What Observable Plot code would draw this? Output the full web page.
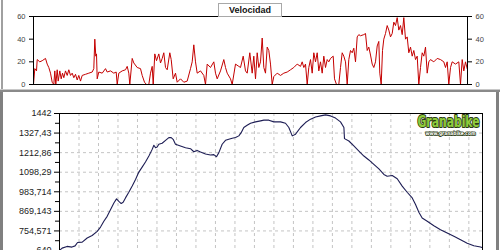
<!DOCTYPE html>
<html>
<head>
<meta charset="utf-8">
<script src="https://cdn.jsdelivr.net/npm/d3@7"></script>
<script src="https://cdn.jsdelivr.net/npm/@observablehq/plot@0.6"></script>
<style>
  html, body { margin: 0; padding: 0; background: #fff; }
  #wrap { position: relative; width: 500px; height: 250px; overflow: hidden; background: #fff; font-family: "Liberation Sans", Arial, sans-serif; }
  #top, #bottom { position: absolute; left: 0; }
  #top { top: 0; }
  #bottom { top: 92px; }
  .bar { position: absolute; }
  #title { position: absolute; left: 218px; top: 3px; width: 62px; height: 12px; border: 1px solid #a8a8a8; background: #fff;
           font: bold 9px "Liberation Sans", Arial, sans-serif; text-align: center; line-height: 12px; color: #111; z-index: 5; }
</style>
</head>
<body>
<div id="wrap">
  <div id="top"></div>
  <div id="bottom"></div>
  <div class="bar" style="left:1px;top:0;width:2px;height:90px;background:#a0a0a0"></div>
  <div class="bar" style="left:0;top:89px;width:500px;height:1px;background:#c8c8c8"></div>
  <div class="bar" style="left:0;top:90px;width:500px;height:2px;background:#8a8a8a"></div>
  <div class="bar" style="left:0;top:92px;width:3px;height:158px;background:#808080"></div>
  <div class="bar" style="left:496px;top:92px;width:3px;height:158px;background:#808080"></div>
  <div id="title">Velocidad</div>
</div>
<script>
// ---- Velocity (km/h) vs distance (km) ----
const velDist = [0,0.13,0.3,0.37,0.63,0.87,1.2,1.37,1.53,1.7,1.87,2.03,2.13,2.23,2.37,2.47,2.63,2.77,2.9,3.03,3.2,3.37,3.53,3.7,3.87,4.03,4.2,4.37,4.53,4.7,4.87,5.2,5.53,5.87,6.03,6.13,6.23,6.3,6.37,6.53,6.87,7.2,7.37,7.7,8.03,8.27,8.37,8.53,8.87,9.2,9.37,9.53,9.63,9.87,10.03,10.37,10.7,10.87,11.1,11.3,11.53,11.7,11.87,11.97,12.13,12.3,12.53,12.7,12.87,13.03,13.2,13.37,13.63,13.77,13.97,14.2,14.37,14.7,15.03,15.37,15.7,15.87,16.03,16.2,16.37,16.7,17.03,17.2,17.37,17.7,18.03,18.2,18.37,18.7,19.03,19.2,19.37,19.7,19.87,20.2,20.53,20.7,20.97,21.2,21.37,21.63,21.87,22.03,22.2,22.37,22.53,22.7,22.87,23.03,23.2,23.37,23.53,23.7,23.87,24.03,24.37,24.7,25.03,25.37,25.7,26.03,26.37,26.7,26.87,27.03,27.2,27.37,27.53,27.7,27.87,28.03,28.2,28.37,28.53,28.7,28.87,29.03,29.2,29.37,29.53,29.7,29.97,30.1,30.3,30.53,30.7,30.87,31.03,31.2,31.37,31.53,31.7,31.87,32.03,32.2,32.37,32.53,32.7,33.03,33.2,33.37,33.53,33.7,33.87,34.03,34.2,34.37,34.53,34.63,34.77,34.9,35.03,35.2,35.37,35.53,35.7,35.87,36.03,36.2,36.37,36.53,36.7,36.87,37.03,37.2,37.37,37.53,37.7,37.87,38.03,38.2,38.37,38.53,38.7,38.87,39.03,39.2,39.37,39.53,39.7,40.03,40.37,40.7,41.03,41.2,41.37,41.53,41.7,41.87,42.2,42.53,42.7,42.87,43.03,43.2,43.37];
const velKmh = [0,14,12,22,20,21,23,18,15,10,2,0,12,0,13,3,12,5,10,6,12,8,13,8,10,6,9,4,8,3,8,9,10,11,14,40,25,27,5,11,10,14,11,12,10,11,0,10,12,13,16,10,0,23,19,15,14,8,2,0,0,10,16,0,27,21,27,19,23,28,15,13,28,22,5,10,2,5,2,3,14,20,35,20,10,12,8,0,18,15,20,10,5,12,22,15,10,5,0,18,16,15,25,12,10,28,10,25,5,28,15,20,41,15,10,33,30,18,0,7,10,8,10,11,13,15,18,16,20,15,18,0,15,22,10,28,20,28,12,20,10,25,15,22,20,23,25,5,0,0,15,28,25,20,0,22,30,28,32,20,42,44,43,44,45,30,33,26,18,15,20,34,38,10,0,30,40,45,52,48,42,45,55,52,59,48,52,44,59,40,42,28,33,25,30,22,25,0,15,28,25,33,10,20,22,20,23,22,20,15,20,0,15,20,18,20,0,22,12,20,14];
const velTicks = [0, 20, 40, 60];

// ---- Elevation (m) vs distance (km) ----
const eleDist = [0,0.27,0.77,1.28,1.6,1.85,2.33,2.84,3.35,3.87,4.21,4.55,4.89,5.23,5.58,5.85,6.09,6.33,6.53,6.77,7.11,7.46,7.8,8.14,8.48,8.82,9.17,9.51,9.68,9.85,10.02,10.19,10.53,10.88,11.22,11.46,11.66,11.9,12.41,12.93,13.44,13.78,14.12,14.47,14.98,15.49,15.83,16.11,16.35,16.69,17.03,17.37,17.72,18.06,18.4,18.64,18.91,19.25,19.6,20.11,20.63,20.97,21.48,21.99,22.68,23.19,23.53,23.88,24.22,24.73,25.24,25.76,26.27,26.78,27.3,27.81,28.32,28.83,29.18,29.24,29.69,30.2,30.72,31.23,31.74,32.25,32.77,33.28,33.62,34.14,34.65,35.16,35.67,36.19,36.53,36.87,37.21,37.73,38.41,39.09,39.78,40.46,41.15,41.83,42.51,43.2,43.4];
const eleM = [640,654,664,660,667,687,689,713,728,752,777,811,840,879,918,942,928,915,922,948,981,1017,1056,1099,1128,1158,1193,1232,1256,1242,1246,1262,1268,1285,1301,1301,1291,1262,1252,1242,1236,1218,1226,1217,1205,1199,1201,1189,1213,1262,1285,1291,1297,1301,1311,1330,1360,1373,1385,1393,1399,1403,1403,1393,1393,1385,1360,1311,1321,1360,1389,1409,1422,1428,1434,1428,1415,1393,1360,1295,1281,1252,1222,1193,1170,1144,1118,1085,1075,1079,1060,1017,981,948,909,864,830,811,785,762,742,723,703,683,668,660,656];
const eleTicks = [640, 754.571, 869.143, 983.714, 1098.29, 1212.86, 1327.43, 1442];
const distGrid = [2,4,6,8,10,12,14,16,18,20,22,24,26,28,30,32,34,36,38,40,42];
const logoText = ["Granabike", "www.granabike.com"];

const velData = velDist.map((d, i) => ({d, v: velKmh[i]}));
const eleData = eleDist.map((d, i) => ({d, e: eleM[i]}));
const xDomain = [0, 43.4];
const fmt = v => String(v).replace(".", ",");
const minorTicks = eleTicks.slice(0, -1).map((t, i) => (t + eleTicks[i + 1]) / 2);

const topChart = Plot.plot({
  width: 500, height: 90,
  marginTop: 16, marginBottom: 6, marginLeft: 33, marginRight: 33,
  x: {domain: xDomain, axis: null},
  y: {domain: [0, 60], label: null},
  style: {fontFamily: "'Liberation Sans', Arial, sans-serif", fontSize: "7.5px", color: "#444", background: "transparent"},
  marks: [
    Plot.line(velData, {x: "d", y: "v", stroke: "#c40000", strokeWidth: 1}),
    Plot.frame({stroke: "#000"}),
    Plot.axisY({anchor: "left", ticks: velTicks, tickSize: 4, tickPadding: 4, stroke: "#000"}),
    Plot.axisY({anchor: "right", ticks: velTicks, tickSize: 4, tickPadding: 4, stroke: "#000"})
  ]
});
document.getElementById("top").appendChild(topChart);

const bottomChart = Plot.plot({
  width: 500, height: 160,
  marginTop: 21, marginBottom: 2, marginLeft: 59, marginRight: 18,
  x: {domain: xDomain, axis: null},
  y: {domain: [640, 1442], label: null},
  style: {fontFamily: "'Liberation Sans', Arial, sans-serif", fontSize: "9px", color: "#222", background: "transparent", overflow: "visible"},
  marks: [
    Plot.gridX({ticks: distGrid, stroke: "#c4c4c4", strokeOpacity: 1, strokeDasharray: "3,3"}),
    Plot.gridY({ticks: eleTicks, stroke: "#c4c4c4", strokeOpacity: 1, strokeDasharray: "3,3"}),
    Plot.line(eleData, {x: "d", y: "e", stroke: "#1e1e55", strokeWidth: 1.1}),
    Plot.frame({stroke: "#000"}),
    Plot.axisY({anchor: "left", ticks: eleTicks, tickFormat: fmt, tickSize: 5, tickPadding: 3, stroke: "#000"}),
    Plot.axisY({anchor: "left", ticks: minorTicks, tickFormat: null, text: null, tickSize: 4, stroke: "#000"}),
    Plot.text([logoText[0]], {frameAnchor: "top-right", dx: -3, dy: 2, text: d => d, textAnchor: "end", lineAnchor: "top",
      fill: "#8fcc3c", stroke: "#2a3a12", strokeWidth: 2, paintOrder: "stroke",
      fontFamily: "'DejaVu Sans Condensed', sans-serif", fontWeight: "bold", fontSize: 16, className: "logo-main"}),
    Plot.text([logoText[1]], {frameAnchor: "top-right", dx: -7, dy: 18, text: d => d, textAnchor: "end", lineAnchor: "top",
      fill: "#ffffff", stroke: "#2a3a12", strokeWidth: 1.6, paintOrder: "stroke",
      fontFamily: "'DejaVu Sans Condensed', sans-serif", fontWeight: "bold", fontSize: 5, className: "logo-url"})
  ]
});
document.getElementById("bottom").appendChild(bottomChart);
// fit logo texts to the reference widths
d3.select(bottomChart).selectAll(".logo-main text").attr("textLength", 62).attr("lengthAdjust", "spacingAndGlyphs");
d3.select(bottomChart).selectAll(".logo-url text").attr("textLength", 50).attr("lengthAdjust", "spacingAndGlyphs");
</script>
</body>
</html>
